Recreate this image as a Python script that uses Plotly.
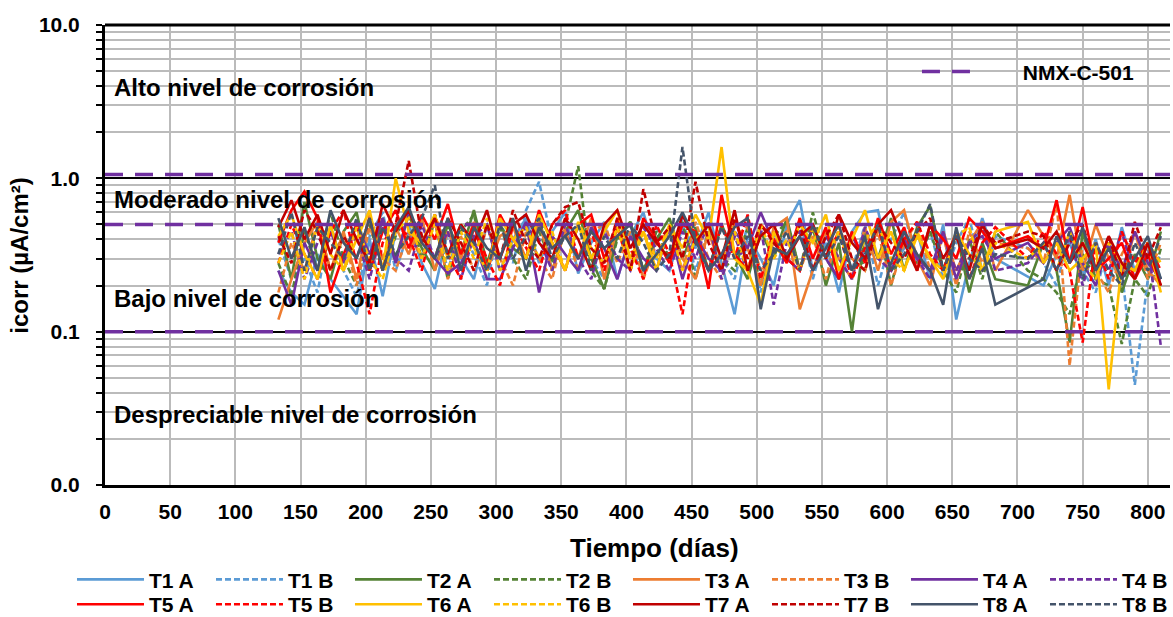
import math
import plotly.graph_objects as go

# ---------------- data ----------------
dias = [133, 143, 153, 163, 173, 183, 193, 203, 213, 223,
        233, 243, 253, 263, 273, 283, 293, 303, 313, 323,
        333, 343, 353, 363, 373, 383, 393, 403, 413, 423,
        433, 443, 453, 463, 473, 483, 493, 503, 513, 523,
        533, 543, 553, 563, 573, 583, 593, 603, 613, 623,
        633, 643, 653, 663, 673, 683,
        708,
        720, 730, 740, 750, 760, 770, 780, 790, 800, 810]

T1A = [0.25, 0.18, 0.15, 0.32, 0.22, 0.17, 0.13, 0.40, 0.17, 0.45,
       0.50, 0.28, 0.19, 0.45, 0.30, 0.22, 0.50, 0.25, 0.40, 0.55,
       0.28, 0.45, 0.60, 0.24, 0.38, 0.52, 0.22, 0.42, 0.60, 0.30,
       0.25, 0.48, 0.35, 0.60, 0.28, 0.13, 0.42, 0.30, 0.20, 0.50,
       0.72, 0.25, 0.38, 0.18, 0.45, 0.60, 0.62, 0.25, 0.35, 0.45,
       0.22, 0.50, 0.12, 0.28, 0.55, 0.30,
       None,
       0.20, 0.32, 0.38, 0.22, 0.40, 0.20, 0.48, 0.25, 0.38, 0.22]
T1B = [0.40, 0.22, 0.30, 0.18, 0.50, 0.25, 0.17, 0.42, 0.60, 0.25,
       0.45, 0.30, 0.58, 0.25, 0.50, 0.32, 0.20, 0.55, 0.28, 0.62,
       0.95, 0.38, 0.25, 0.50, 0.30, 0.22, 0.55, 0.35, 0.24, 0.48,
       0.30, 0.55, 0.25, 0.45, 0.30, 0.22, 0.50, 0.18, 0.42, 0.28,
       0.55, 0.22, 0.45, 0.30, 0.25, 0.50, 0.20, 0.40, 0.60, 0.28,
       0.45, 0.22, 0.38, 0.55, 0.25, 0.42,
       0.35,
       0.28, 0.20, 0.45, 0.25, 0.18, 0.38, 0.25, 0.045, 0.22, 0.32]
T2A = [0.50, 0.22, 0.70, 0.30, 0.22, 0.45, 0.60, 0.25, 0.55, 0.30,
       0.58, 0.35, 0.25, 0.50, 0.32, 0.62, 0.28, 0.50, 0.35, 0.30,
       0.55, 0.25, 0.45, 0.62, 0.30, 0.19, 0.42, 0.52, 0.25, 0.40,
       0.55, 0.30, 0.48, 0.25, 0.50, 0.32, 0.22, 0.45, 0.30, 0.55,
       0.25, 0.48, 0.20, 0.38, 0.10, 0.45, 0.30, 0.55, 0.25, 0.48,
       0.66, 0.25, 0.45, 0.18, 0.38, 0.22,
       0.20,
       0.38, 0.25, 0.085, 0.45, 0.22, 0.38, 0.18, 0.32, 0.22, 0.45]
T2B = [0.28, 0.17, 0.45, 0.25, 0.60, 0.30, 0.20, 0.50, 0.25, 0.42,
       0.65, 0.30, 0.52, 0.22, 0.45, 0.58, 0.25, 0.48, 0.30, 0.22,
       0.45, 0.28, 0.50, 1.20, 0.25, 0.19, 0.40, 0.52, 0.25, 0.45,
       0.30, 0.52, 0.22, 0.45, 0.30, 0.25, 0.48, 0.20, 0.42, 0.52,
       0.25, 0.60, 0.30, 0.22, 0.45, 0.25, 0.52, 0.20, 0.42, 0.28,
       0.45, 0.25, 0.18, 0.40, 0.22, 0.45,
       0.25,
       0.22, 0.18, 0.13, 0.32, 0.22, 0.20, 0.083, 0.22, 0.17, 0.35]
T3A = [0.12, 0.22, 0.38, 0.52, 0.25, 0.45, 0.22, 0.58, 0.30, 0.48,
       0.32, 0.55, 0.25, 0.45, 0.30, 0.52, 0.25, 0.42, 0.48, 0.30,
       0.52, 0.25, 0.45, 0.30, 0.55, 0.22, 0.48, 0.30, 0.45, 0.25,
       0.50, 0.30, 0.22, 0.45, 0.25, 0.52, 0.35, 0.20, 0.48, 0.55,
       0.14, 0.25, 0.45, 0.30, 0.22, 0.48, 0.25, 0.52, 0.62, 0.30,
       0.20, 0.45, 0.25, 0.38, 0.52, 0.25,
       0.62,
       0.42, 0.30, 0.78, 0.25, 0.50, 0.30, 0.22, 0.45, 0.25, 0.20]
T3B = [0.18, 0.38, 0.25, 0.52, 0.25, 0.42, 0.20, 0.48, 0.30, 0.25,
       0.45, 0.30, 0.52, 0.22, 0.42, 0.25, 0.48, 0.30, 0.20, 0.45,
       0.30, 0.22, 0.48, 0.25, 0.42, 0.52, 0.28, 0.45, 0.22, 0.38,
       0.45, 0.25, 0.52, 0.30, 0.22, 0.42, 0.48, 0.25, 0.38, 0.45,
       0.25, 0.42, 0.22, 0.48, 0.30, 0.25, 0.45, 0.20, 0.38, 0.52,
       0.25, 0.42, 0.20, 0.45, 0.28, 0.38,
       0.35,
       0.28, 0.70, 0.06, 0.38, 0.25, 0.18, 0.32, 0.45, 0.22, 0.38]
T4A = [0.25, 0.15, 0.38, 0.25, 0.45, 0.28, 0.50, 0.32, 0.55, 0.28,
       0.60, 0.42, 0.30, 0.24, 0.28, 0.40, 0.22, 0.22, 0.35, 0.52,
       0.18, 0.42, 0.32, 0.25, 0.48, 0.35, 0.22, 0.42, 0.30, 0.25,
       0.48, 0.22, 0.42, 0.30, 0.25, 0.45, 0.35, 0.60, 0.38, 0.30,
       0.25, 0.50, 0.30, 0.22, 0.42, 0.30, 0.50, 0.25, 0.40, 0.30,
       0.25, 0.45, 0.22, 0.38, 0.42, 0.30,
       0.38,
       0.28, 0.38, 0.48, 0.28, 0.20, 0.38, 0.25, 0.45, 0.28, 0.22]
T4B = [0.32, 0.45, 0.22, 0.38, 0.50, 0.25, 0.42, 0.22, 0.48, 0.30,
       0.25, 0.50, 0.30, 0.45, 0.22, 0.42, 0.50, 0.25, 0.35, 0.48,
       0.40, 0.25, 0.50, 0.30, 0.22, 0.45, 0.30, 0.25, 0.48, 0.35,
       0.25, 0.45, 0.30, 0.52, 0.22, 0.42, 0.25, 0.48, 0.15, 0.38,
       0.45, 0.25, 0.42, 0.30, 0.22, 0.48, 0.30, 0.25, 0.45, 0.30,
       0.22, 0.42, 0.25, 0.38, 0.48, 0.25,
       0.28,
       0.38, 0.25, 0.42, 0.20, 0.38, 0.25, 0.45, 0.22, 0.38, 0.08]
T5A = [0.38, 0.62, 0.82, 0.55, 0.18, 0.32, 0.50, 0.25, 0.45, 0.62,
       0.35, 0.58, 0.40, 0.68, 0.32, 0.50, 0.25, 0.58, 0.40, 0.30,
       0.62, 0.38, 0.25, 0.50, 0.58, 0.30, 0.48, 0.25, 0.55, 0.40,
       0.28, 0.50, 0.45, 0.19, 0.78, 0.32, 0.25, 0.50, 0.40, 0.28,
       0.55, 0.30, 0.48, 0.22, 0.45, 0.28, 0.55, 0.32, 0.48, 0.25,
       0.50, 0.40, 0.30, 0.55, 0.45, 0.35,
       0.42,
       0.35, 0.72, 0.28, 0.65, 0.25, 0.30, 0.38, 0.22, 0.32, 0.20]
T5B = [0.28, 0.50, 0.32, 0.22, 0.45, 0.62, 0.28, 0.13, 0.38, 0.50,
       0.42, 0.25, 0.58, 0.32, 0.22, 0.48, 0.30, 0.20, 0.50, 0.35,
       0.25, 0.50, 0.62, 0.30, 0.45, 0.25, 0.55, 0.35, 0.22, 0.50,
       0.32, 0.13, 0.45, 0.25, 0.50, 0.30, 0.58, 0.22, 0.45, 0.30,
       0.25, 0.50, 0.30, 0.45, 0.22, 0.35, 0.48, 0.25, 0.40, 0.52,
       0.32, 0.25, 0.45, 0.22, 0.38, 0.48,
       0.30,
       0.45, 0.32, 0.25, 0.085, 0.38, 0.22, 0.45, 0.28, 0.38, 0.25]
T6A = [0.42, 0.58, 0.32, 0.22, 0.50, 0.25, 0.40, 0.62, 0.25, 1.00,
       0.45, 0.38, 0.58, 0.30, 0.50, 0.35, 0.25, 0.55, 0.40, 0.30,
       0.58, 0.38, 0.25, 0.50, 0.30, 0.45, 0.62, 0.30, 0.45, 0.25,
       0.50, 0.35, 0.58, 0.40, 1.60, 0.30, 0.25, 0.15, 0.45, 0.30,
       0.50, 0.38, 0.58, 0.25, 0.40, 0.62, 0.30, 0.45, 0.25, 0.42,
       0.30, 0.22, 0.45, 0.32, 0.25, 0.45,
       0.52,
       0.28, 0.38, 0.25, 0.30, 0.38, 0.042, 0.28, 0.25, 0.38, 0.18]
T6B = [0.28, 0.45, 0.22, 0.50, 0.32, 0.25, 0.48, 0.30, 0.22, 0.45,
       0.55, 0.30, 0.50, 0.25, 0.45, 0.30, 0.55, 0.25, 0.40, 0.48,
       0.30, 0.45, 0.25, 0.52, 0.35, 0.28, 0.48, 0.25, 0.45, 0.30,
       0.50, 0.25, 0.40, 0.48, 0.30, 0.45, 0.25, 0.50, 0.30, 0.40,
       0.25, 0.48, 0.30, 0.45, 0.25, 0.40, 0.50, 0.30, 0.25, 0.45,
       0.30, 0.25, 0.42, 0.48, 0.25, 0.38,
       0.30,
       0.38, 0.25, 0.45, 0.28, 0.22, 0.38, 0.28, 0.25, 0.38, 0.28]
T7A = [0.48, 0.72, 0.40, 0.58, 0.32, 0.62, 0.40, 0.28, 0.68, 0.45,
       0.62, 0.38, 0.55, 0.32, 0.50, 0.38, 0.62, 0.30, 0.50, 0.58,
       0.38, 0.30, 0.55, 0.40, 0.25, 0.50, 0.62, 0.35, 0.50, 0.38,
       0.30, 0.58, 0.38, 0.50, 0.30, 0.62, 0.25, 0.42, 0.50, 0.30,
       0.42, 0.50, 0.30, 0.58, 0.38, 0.30, 0.50, 0.62, 0.38, 0.25,
       0.50, 0.30, 0.42, 0.25, 0.50, 0.35,
       0.40,
       0.35, 0.45, 0.28, 0.38, 0.25, 0.42, 0.28, 0.22, 0.38, 0.20]
T7B = [0.42, 0.28, 0.62, 0.45, 0.25, 0.42, 0.30, 0.55, 0.25, 0.50,
       1.30, 0.42, 0.30, 0.55, 0.38, 0.25, 0.50, 0.30, 0.62, 0.38,
       0.30, 0.50, 0.65, 0.70, 0.35, 0.28, 0.55, 0.25, 0.85, 0.38,
       0.48, 0.30, 0.95, 0.38, 0.25, 0.55, 0.30, 0.50, 0.38, 0.30,
       0.50, 0.25, 0.42, 0.58, 0.30, 0.25, 0.50, 0.38, 0.30, 0.45,
       0.55, 0.25, 0.42, 0.30, 0.50, 0.38,
       0.45,
       0.42, 0.25, 0.38, 0.50, 0.25, 0.42, 0.22, 0.52, 0.30, 0.48]
T8A = [0.55, 0.30, 0.48, 0.25, 0.62, 0.38, 0.30, 0.55, 0.25, 0.48,
       0.65, 0.38, 0.30, 0.55, 0.25, 0.48, 0.35, 0.30, 0.55, 0.25,
       0.48, 0.35, 0.42, 0.30, 0.45, 0.35, 0.42, 0.50, 0.25, 0.32,
       0.42, 0.60, 0.40, 0.25, 0.32, 0.48, 0.55, 0.14, 0.35, 0.32,
       0.42, 0.25, 0.35, 0.50, 0.25, 0.42, 0.14, 0.28, 0.45, 0.32,
       0.25, 0.15, 0.48, 0.22, 0.35, 0.15,
       None,
       0.22, 0.42, 0.28, 0.48, 0.25, 0.35, 0.22, 0.30, 0.42, 0.22]
T8B = [0.32, 0.60, 0.25, 0.48, 0.38, 0.30, 0.55, 0.25, 0.48, 0.32,
       0.42, 0.55, 0.90, 0.30, 0.48, 0.38, 0.25, 0.50, 0.30, 0.42,
       0.55, 0.30, 0.42, 0.50, 0.25, 0.42, 0.30, 0.50, 0.38, 0.25,
       0.32, 1.60, 0.38, 0.25, 0.48, 0.30, 0.42, 0.25, 0.32, 0.45,
       0.25, 0.50, 0.30, 0.42, 0.25, 0.32, 0.50, 0.25, 0.32, 0.45,
       0.68, 0.25, 0.42, 0.30, 0.25, 0.32,
       0.30,
       0.38, 0.25, 0.45, 0.22, 0.38, 0.25, 0.20, 0.38, 0.25, 0.42]

series_names = ["T1 A", "T1 B", "T2 A", "T2 B", "T3 A", "T3 B", "T4 A", "T4 B",
                "T5 A", "T5 B", "T6 A", "T6 B", "T7 A", "T7 B", "T8 A", "T8 B"]
series_values = [T1A, T1B, T2A, T2B, T3A, T3B, T4A, T4B,
                 T5A, T5B, T6A, T6B, T7A, T7B, T8A, T8B]

nmx_name = "NMX-C-501"
nmx_limits = [1.06, 0.5, 0.1]

zone_labels = ["Alto nivel de corrosión", "Moderado nivel de corrosión",
               "Bajo nivel de corrosión", "Despreciable nivel de corrosión"]
zone_label_y = [3.9, 0.73, 0.165, 0.029]

y_tickvals = [0.01, 0.1, 1, 10]
y_ticktext = ["0.0", "0.1", "1.0", "10.0"]

# ---------------- style ----------------
FONT = "Liberation Sans, Arial, sans-serif"
pair_colors = ["#5B9BD5", "#548235", "#ED7D31", "#7030A0",
               "#FF0000", "#FFC000", "#C00000", "#44546A"]
X_MAX = 817

fig = go.Figure()
for i, (name, vals) in enumerate(zip(series_names, series_values)):
    col = pair_colors[i // 2]
    dashed = name.endswith("B")
    fig.add_trace(go.Scatter(
        x=dias, y=vals, name=name, mode="lines", connectgaps=True,
        line=dict(color=col, width=2.6, dash="6px,3px" if dashed else "solid"),
        legend="legend" if i < 8 else "legend3"))

# NMX limits
nx, ny = [], []
for v in nmx_limits:
    nx += [0, X_MAX, None]
    ny += [v, v, None]
fig.add_trace(go.Scatter(
    x=nx, y=ny, name="\u00a0" * 7 + nmx_name, mode="lines",
    line=dict(color="#7030A0", width=3.5, dash="18px,12px"),
    legend="legend2", hoverinfo="skip"))

minor_vals = [m * 10 ** e for e in (-2, -1, 0) for m in range(2, 10)]

legend_common = dict(orientation="h", xanchor="left", yanchor="middle",
                     itemwidth=67, entrywidth=57, tracegroupgap=0,
                     font=dict(size=21, family=FONT, weight="bold"),
                     bgcolor="rgba(0,0,0,0)")

fig.update_layout(
    width=1173, height=617,
    margin=dict(l=105, r=3, t=25, b=132, autoexpand=False),
    plot_bgcolor="white", paper_bgcolor="white",
    font=dict(family=FONT, color="black", weight="bold"),
    xaxis=dict(range=[0, X_MAX], dtick=50, tick0=0, showgrid=True,
               gridcolor="#BBBBBB", gridwidth=2, showline=True,
               linecolor="black", linewidth=3, ticks="", zeroline=False,
               tickfont=dict(size=21, family=FONT, weight="bold"),
               ticklabelstandoff=6, automargin=False),
    yaxis=dict(type="log", range=[-2, 1], tickvals=y_tickvals,
               ticktext=y_ticktext, showgrid=True, gridcolor="black",
               gridwidth=1.5, showline=True, linecolor="black",
               linewidth=3, ticks="outside", ticklen=6, tickwidth=2,
               tickcolor="black", zeroline=False,
               tickfont=dict(size=21, family=FONT, weight="bold"),
               ticklabelstandoff=12, automargin=False,
               minor=dict(tickvals=minor_vals, ticks="outside", ticklen=6,
                          tickwidth=2, tickcolor="black", showgrid=True,
                          gridcolor="#BBBBBB", gridwidth=2)),
    legend=dict(x=-0.031, y=-0.206, **legend_common),
    legend3=dict(x=-0.031, y=-0.26, **legend_common),
    legend2=dict(x=0.7624, y=0.898, xanchor="left", yanchor="middle",
                 itemwidth=55,
                 font=dict(size=21, family=FONT, weight="bold"),
                 bgcolor="rgba(0,0,0,0)"),
    showlegend=True,
)

# top border
fig.add_shape(type="line", xref="paper", yref="paper", x0=0, x1=1, y0=1, y1=1,
              line=dict(color="black", width=3), layer="above")

for txt, yv in zip(zone_labels, zone_label_y):
    fig.add_annotation(x=5.4, y=math.log10(yv), xref="x", yref="y",
                       text=txt, showarrow=False, xanchor="left", yanchor="middle",
                       font=dict(size=24, family=FONT, weight="bold", color="black"))

fig.add_annotation(x=0.5155, y=-0.137, xref="paper", yref="paper",
                   text="Tiempo (días)", showarrow=False, xanchor="center",
                   yanchor="middle",
                   font=dict(size=26, family=FONT, weight="bold", color="black"))
fig.add_annotation(x=-0.081, y=0.5, xref="paper", yref="paper",
                   text="icorr (µA/cm²)", showarrow=False, textangle=-90,
                   xanchor="center", yanchor="middle",
                   font=dict(size=24, family=FONT, weight="bold", color="black"))

fig.write_html("out.html")
